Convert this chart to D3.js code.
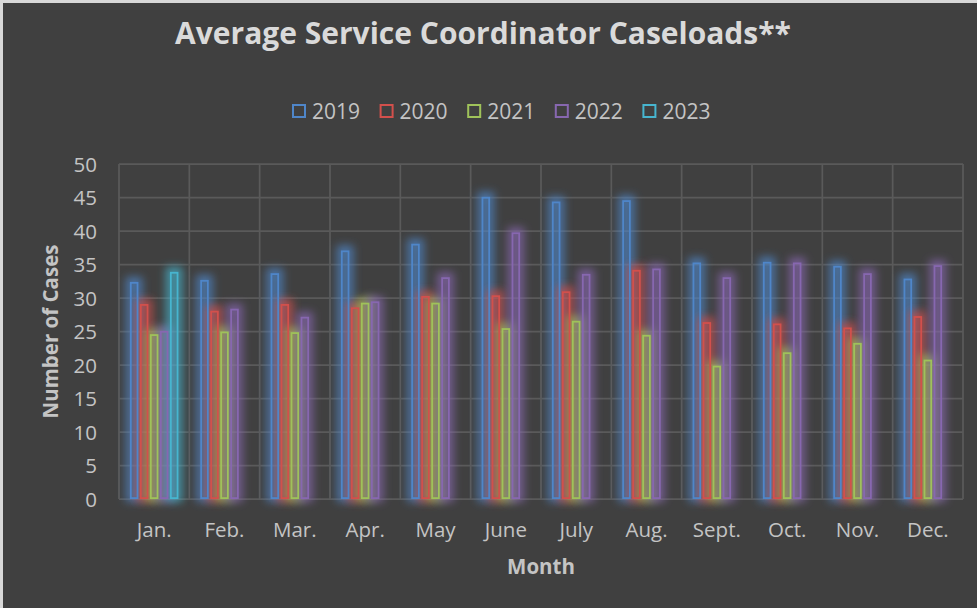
<!DOCTYPE html>
<html>
<head>
<meta charset="utf-8">
<style>
html, body { margin: 0; padding: 0; background: #404040; }
svg { display: block; }
text { font-family: "Open Sans", sans-serif; }
</style>
<script src="https://cdnjs.cloudflare.com/ajax/libs/d3/7.8.5/d3.min.js"></script>
</head>
<body>
<svg id="chart" width="977" height="608"></svg>
<script>
var width = 977, height = 608

var months = ['Jan.', 'Feb.', 'Mar.', 'Apr.', 'May', 'June', 'July', 'Aug.', 'Sept.', 'Oct.', 'Nov.', 'Dec.']
var years = ['2019', '2020', '2021', '2022', '2023']
var colors = ['#4f86c9', '#d2504c', '#9fc25a', '#8767b0', '#47b5cf']
var yTicks = [0, 5, 10, 15, 20, 25, 30, 35, 40, 45, 50]

var v2019 = [32.4, 32.7, 33.7, 37.1, 38.1, 45.1, 44.4, 44.6, 35.3, 35.4, 34.8, 32.9]
var v2020 = [29.1, 28.1, 29.1, 28.6, 30.3, 30.4, 31.0, 34.2, 26.4, 26.2, 25.6, 27.3]
var v2021 = [24.6, 25.0, 24.9, 29.3, 29.3, 25.5, 26.6, 24.5, 19.9, 21.9, 23.3, 20.8]
var v2022 = [25.1, 28.4, 27.2, 29.5, 33.1, 39.8, 33.6, 34.4, 33.1, 35.3, 33.7, 34.9]
var v2023 = [33.9, null, null, null, null, null, null, null, null, null, null, null]
var series = [v2019, v2020, v2021, v2022, v2023]

var svg = d3.select('#chart')

// frame
svg.append('rect').attr('width', width).attr('height', height).attr('fill', '#d9d9d9')
svg.append('rect').attr('x', 3).attr('y', 3).attr('width', width - 3).attr('height', height - 3).attr('fill', '#404040')

var plot = {left: 119, right: 963, top: 164, bottom: 499}

var x = d3.scaleBand().domain(months).range([plot.left, plot.right])
var x1 = d3.scaleBand().domain(years).range([0, x.bandwidth()])
  .paddingInner(0.15).paddingOuter(1.09)
var y = d3.scaleLinear().domain([0, 50]).range([plot.bottom, plot.top])

// glow filter
var defs = svg.append('defs')
defs.append('filter').attr('id', 'glow')
  .attr('x', '-200%').attr('y', '-50%').attr('width', '500%').attr('height', '200%')
  .append('feGaussianBlur').attr('stdDeviation', 4)

// gridlines
var grid = svg.append('g').attr('stroke', '#5a5a5a').attr('stroke-width', 1.75)
grid.selectAll('line.h').data(yTicks).join('line')
  .attr('x1', plot.left).attr('x2', plot.right)
  .attr('y1', function(d) { return y(d) }).attr('y2', function(d) { return y(d) })
var vlines = months.map(function(m) { return x(m) }).concat([plot.right])
grid.selectAll('line.v').data(vlines).join('line')
  .attr('x1', function(d) { return d }).attr('x2', function(d) { return d })
  .attr('y1', plot.top).attr('y2', plot.bottom)

// bars
var bars = []
series.forEach(function(vals, si) {
  vals.forEach(function(v, mi) {
    if (v != null) bars.push({year: years[si], month: months[mi], value: v, color: colors[si]})
  })
})

var sw = 1.8
svg.append('g').selectAll('rect').data(bars).join('rect')
  .attr('x', function(d) { return x(d.month) + x1(d.year) - 1 })
  .attr('y', function(d) { return y(d.value) - 2 })
  .attr('width', x1.bandwidth() + 2)
  .attr('height', function(d) { return y(0) - y(d.value) + 2 })
  .attr('fill', function(d) { return d.color })
  .attr('fill-opacity', 0.4)
  .attr('stroke', function(d) { return d.color })
  .attr('stroke-opacity', 0.7)
  .attr('stroke-width', 6)
  .attr('filter', 'url(#glow)')

svg.append('g').selectAll('rect').data(bars).join('rect')
  .attr('x', function(d) { return x(d.month) + x1(d.year) + sw / 2 })
  .attr('y', function(d) { return y(d.value) + sw / 2 })
  .attr('width', x1.bandwidth() - sw)
  .attr('height', function(d) { return y(0) - y(d.value) - sw })
  .attr('fill', 'none')
  .attr('stroke', function(d) { return d.color })
  .attr('stroke-width', sw)

// y axis
var yAxis = d3.axisLeft(y).tickValues(yTicks).tickSize(0).tickPadding(0)
var yg = svg.append('g').attr('transform', 'translate(97,0)').call(yAxis)
yg.select('.domain').remove()
yg.selectAll('text').attr('fill', '#c4c4c4').style('font-size', '20.5px').attr('dy', '0.35em')

// x axis
var xAxis = d3.axisBottom(x).tickSize(0).tickPadding(0)
var xg = svg.append('g').attr('transform', 'translate(0,' + plot.bottom + ')').call(xAxis)
xg.select('.domain').remove()
xg.selectAll('text').attr('fill', '#c4c4c4').style('font-size', '20.5px').attr('y', 38).attr('dy', 0)

// titles
svg.append('text').attr('x', 483).attr('y', 44).attr('text-anchor', 'middle')
  .attr('fill', '#dadada').style('font-size', '30px').style('font-weight', 'bold')
  .text('Average Service Coordinator Caseloads**')

svg.append('text').attr('x', (plot.left + plot.right) / 2).attr('y', 574).attr('text-anchor', 'middle')
  .attr('fill', '#c4c4c4').style('font-size', '20.5px').style('font-weight', 'bold')
  .text('Month')

svg.append('text').attr('transform', 'translate(58,' + (plot.top + plot.bottom) / 2 + ') rotate(-90)')
  .attr('text-anchor', 'middle')
  .attr('fill', '#c4c4c4').style('font-size', '20.5px').style('font-weight', 'bold')
  .text('Number of Cases')

// legend
var legend = svg.append('g').attr('transform', 'translate(292,104)')
var item = legend.selectAll('g').data(years).join('g')
  .attr('transform', function(d, i) { return 'translate(' + i * 87.6 + ',0)' })
item.append('rect').attr('x', 1).attr('y', 1).attr('width', 12).attr('height', 12)
  .attr('fill', 'none').attr('stroke-width', 2)
  .attr('stroke', function(d, i) { return colors[i] })
item.append('text').attr('x', 20).attr('y', 15)
  .attr('fill', '#c4c4c4').style('font-size', '21px')
  .text(function(d) { return d })
</script>
</body>
</html>
